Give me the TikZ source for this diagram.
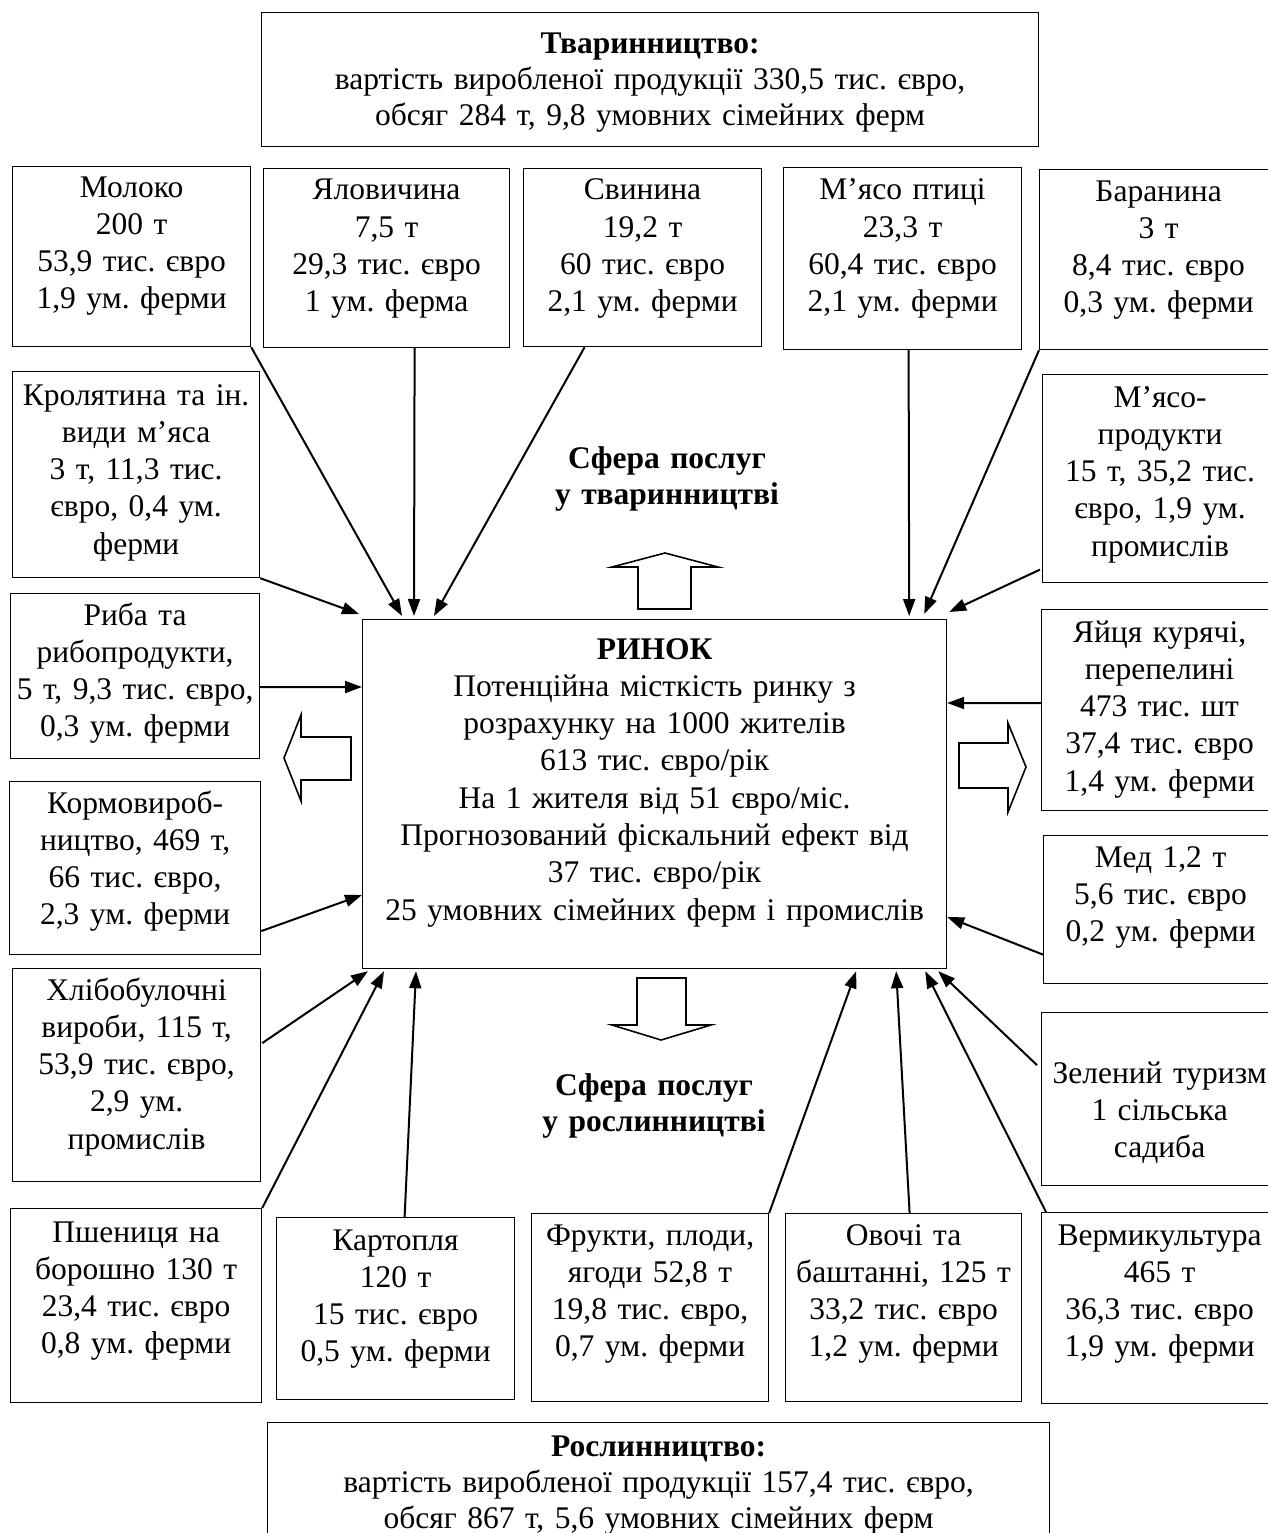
\documentclass[tikz,border=0pt]{standalone}
\usepackage{fontspec}
\setmainfont{Liberation Serif}
\usetikzlibrary{arrows.meta}
\frenchspacing

\tikzset{
  cell/.style={draw,line width=1.2pt,anchor=north west,inner sep=0pt},
  celltext/.style={anchor=base,inner sep=0pt,align=center,text width=300pt,font=\fontsize{31.5}{37.3}\selectfont},
  bigtext/.style={anchor=base,inner sep=0pt,align=center,text width=900pt,font=\fontsize{31.5}{36}\selectfont},
  sferatext/.style={anchor=base,inner sep=0pt,align=center,text width=400pt,font=\fontsize{31.5}{36}\selectfont\bfseries},
  feed/.style={line width=2pt,-{Triangle[length=17pt,width=12pt]}},
  hollow/.style={draw,line width=1.6pt,line join=miter}
}

\begin{document}
\begin{tikzpicture}[x=1pt,y=-1pt]
\path[use as bounding box] (0,0) rectangle (1267,1533);
\node[cell,minimum width=777pt,minimum height=134pt] (tvar) at (261,12) {};
\node[bigtext] (tvar-t) at ([yshift=-42pt]tvar.north) {\textbf{Тваринництво:}\\вартість виробленої продукції 330,5 тис. євро,\\обсяг 284 т, 9,8 умовних сімейних ферм};
\node[cell,minimum width=238pt,minimum height=180pt] (moloko) at (12,166) {};
\node[celltext] (moloko-t) at ([yshift=-31pt]moloko.north) {Молоко\\200 т\\53,9 тис. євро\\1,9 ум. ферми};
\node[cell,minimum width=246pt,minimum height=179pt] (yalov) at (263,168) {};
\node[celltext] (yalov-t) at ([yshift=-32pt]yalov.north) {Яловичина\\7,5 т\\29,3 тис. євро\\1 ум. ферма};
\node[cell,minimum width=238pt,minimum height=178pt] (svyn) at (523,168) {};
\node[celltext] (svyn-t) at ([yshift=-32pt]svyn.north) {Свинина\\19,2 т\\60 тис. євро\\2,1 ум. ферми};
\node[cell,minimum width=238pt,minimum height=182pt] (ptytsia) at (783,167) {};
\node[celltext] (ptytsia-t) at ([yshift=-33pt]ptytsia.north) {М’ясо птиці\\23,3 т\\60,4 тис. євро\\2,1 ум. ферми};
\node[cell,minimum width=238pt,minimum height=180pt] (baran) at (1039,169) {};
\node[celltext] (baran-t) at ([yshift=-32pt]baran.north) {Баранина\\3 т\\8,4 тис. євро\\0,3 ум. ферми};
\node[cell,minimum width=247pt,minimum height=206pt] (krol) at (12,371) {};
\node[celltext] (krol-t) at ([yshift=-34pt]krol.north) {Кролятина та ін.\\види м’яса\\3 т, 11,3 тис.\\євро, 0,4 ум.\\ферми};
\node[cell,minimum width=235pt,minimum height=208pt] (miaso) at (1042,374) {};
\node[celltext] (miaso-t) at ([yshift=-33pt]miaso.north) {М’ясо-\\продукти\\15 т, 35,2 тис.\\євро, 1,9 ум.\\промислів};
\node[cell,minimum width=249pt,minimum height=165pt] (ryba) at (10,593) {};
\node[celltext] (ryba-t) at ([yshift=-32pt]ryba.north) {Риба та\\рибопродукти,\\5 т, 9,3 тис. євро,\\0,3 ум. ферми};
\node[cell,minimum width=236pt,minimum height=201pt] (yaitsia) at (1041,609) {};
\node[celltext] (yaitsia-t) at ([yshift=-33pt]yaitsia.north) {Яйця курячі,\\перепелині\\473 тис. шт\\37,4 тис. євро\\1,4 ум. ферми};
\node[cell,minimum width=251pt,minimum height=173pt] (korm) at (9,781) {};
\node[celltext] (korm-t) at ([yshift=-32pt]korm.north) {Кормовироб-\\ництво, 469 т,\\66 тис. євро,\\2,3 ум. ферми};
\node[cell,minimum width=234pt,minimum height=148pt] (med) at (1043,835) {};
\node[celltext] (med-t) at ([yshift=-32pt]med.north) {Мед 1,2 т\\5,6 тис. євро\\0,2 ум. ферми};
\node[cell,minimum width=248pt,minimum height=213pt] (khlib) at (12,968) {};
\node[celltext] (khlib-t) at ([yshift=-32pt]khlib.north) {Хлібобулочні\\вироби, 115 т,\\53,9 тис. євро,\\2,9 ум.\\промислів};
\node[cell,minimum width=236pt,minimum height=173pt] (zelen) at (1041,1012) {};
\node[celltext] (zelen-t) at ([yshift=-71pt]zelen.north) {Зелений туризм\\1 сільська\\садиба};
\node[cell,minimum width=251pt,minimum height=194pt] (pshen) at (10,1208) {};
\node[celltext] (pshen-t) at ([yshift=-34pt]pshen.north) {Пшениця на\\борошно 130 т\\23,4 тис. євро\\0,8 ум. ферми};
\node[cell,minimum width=238pt,minimum height=182pt] (kart) at (276,1217) {};
\node[celltext] (kart-t) at ([yshift=-33pt]kart.north) {Картопля\\120 т\\15 тис. євро\\0,5 ум. ферми};
\node[cell,minimum width=237pt,minimum height=188pt] (frukt) at (531,1213) {};
\node[celltext] (frukt-t) at ([yshift=-32pt]frukt.north) {Фрукти, плоди,\\ягоди 52,8 т\\19,8 тис. євро,\\0,7 ум. ферми};
\node[cell,minimum width=236pt,minimum height=188pt] (ovochi) at (785,1213) {};
\node[celltext] (ovochi-t) at ([yshift=-32pt]ovochi.north) {Овочі та\\баштанні, 125 т\\33,2 тис. євро\\1,2 ум. ферми};
\node[cell,minimum width=236pt,minimum height=191pt] (verm) at (1041,1212) {};
\node[celltext] (verm-t) at ([yshift=-33pt]verm.north) {Вермикультура\\465 т\\36,3 тис. євро\\1,9 ум. ферми};
\node[cell,minimum width=782pt,minimum height=130pt] (rosl) at (267,1422) {};
\node[bigtext] (rosl-t) at ([yshift=-34pt]rosl.north) {\textbf{Рослинництво:}\\вартість виробленої продукції 157,4 тис. євро,\\обсяг 867 т, 5,6 умовних сімейних ферм};
\node[cell,minimum width=584pt,minimum height=349pt] (rynok) at (362,619) {};
\node[celltext,text width=600pt] (rynok-t) at ([yshift=-40pt]rynok.north) {\textbf{РИНОК}\\Потенційна місткість ринку з\\розрахунку на 1000 жителів\\613 тис. євро/рік\\На 1 жителя від 51 євро/міс.\\Прогнозований фіскальний ефект від\\37 тис. євро/рік\\25 умовних сімейних ферм і промислів};
\node[sferatext] (sfera-tv) at (667,468) {Сфера послуг\\у тваринництві};
\node[sferatext] (sfera-rs) at (654,1095) {Сфера послуг\\у рослинництві};
\draw[hollow] (638,609) -- (638,567) -- (612,567) -- (665,553) -- (718,567) -- (691,567) -- (691,609) -- cycle;
\draw[hollow] (637,978) -- (686,978) -- (686,1025) -- (711,1025) -- (661,1040) -- (612,1025) -- (637,1025) -- cycle;
\draw[hollow] (351,737) -- (301,737) -- (301,715) -- (284,758) -- (301,801) -- (301,780) -- (351,780) -- cycle;
\draw[hollow] (959,743) -- (1008,743) -- (1008,723) -- (1026,767) -- (1008,812) -- (1008,788) -- (959,788) -- cycle;
\draw[feed] (moloko.south east) -- ([shift={(40,-3)}]rynok.north west);
\draw[feed] ([shift={(28,0)}]yalov.south) -- ([shift={(52,-3)}]rynok.north west);
\draw[feed] ([shift={(-58,0)}]svyn.south) -- ([shift={(72,-3)}]rynok.north west);
\draw[feed] (krol.south east) -- ([shift={(-3,-5)}]rynok.north west);
\draw[feed] ([shift={(0,11)}]ryba.east) -- ([shift={(0,68)}]rynok.north west);
\draw[feed] ([shift={(0,63)}]korm.east) -- ([shift={(0,276)}]rynok.north west);
\draw[feed] ([shift={(1,-32)}]khlib.east) -- ([shift={(6,2)}]rynok.south west);
\draw[feed] (pshen.north east) -- ([shift={(22,2)}]rynok.south west);
\draw[feed] ([shift={(9,0)}]kart.north) -- ([shift={(54,2)}]rynok.south west);
\draw[feed] (frukt.north east) -- ([shift={(-91,2)}]rynok.south east);
\draw[feed] ([shift={(6,0)}]ovochi.north) -- ([shift={(-51,2)}]rynok.south east);
\draw[feed] ([shift={(5,0)}]verm.north west) -- ([shift={(-22,2)}]rynok.south east);
\draw[feed] ([shift={(-4,-34)}]zelen.west) -- ([shift={(-9,2)}]rynok.south east);
\draw[feed] ([shift={(0,45)}]med.west) -- ([shift={(0,298)}]rynok.north east);
\draw[feed] ([shift={(0,-7)}]yaitsia.west) -- ([shift={(0,84)}]rynok.north east);
\draw[feed] ([shift={(-2,91)}]miaso.west) -- ([shift={(2,-7)}]rynok.north east);
\draw[feed] (baran.south west) -- ([shift={(-23,-5)}]rynok.north east);
\draw[feed] ([shift={(6,0)}]ptytsia.south) -- ([shift={(-38,-3)}]rynok.north east);
\end{tikzpicture}
\end{document}
